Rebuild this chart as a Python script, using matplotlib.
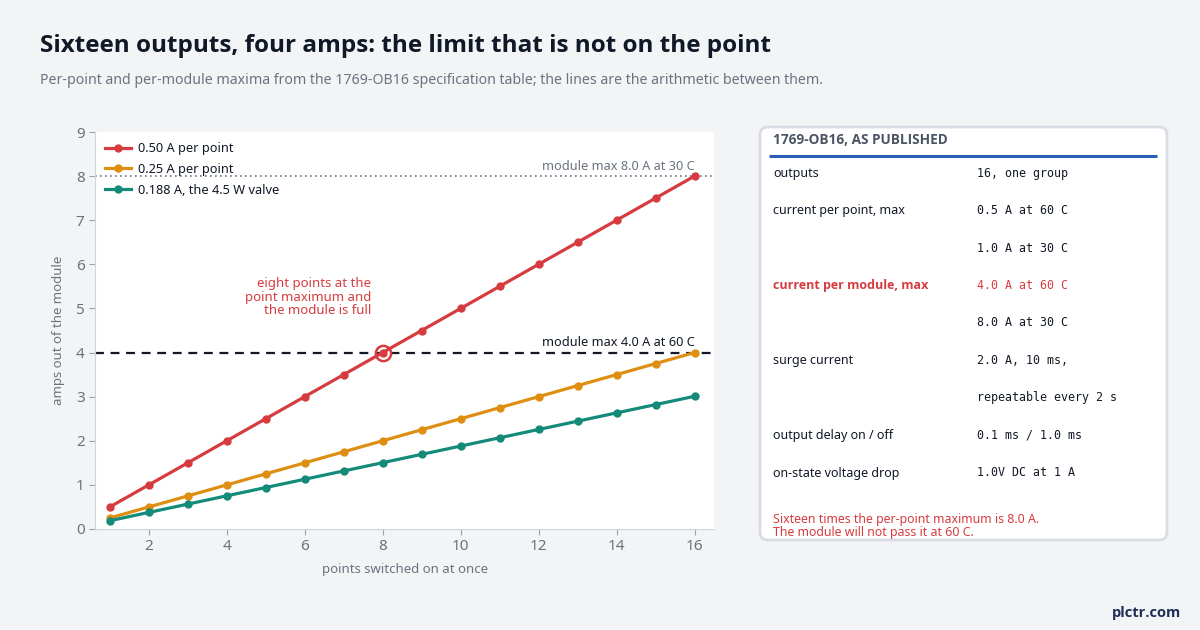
import matplotlib
matplotlib.use("Agg")
import matplotlib.pyplot as plt
from matplotlib.patches import FancyBboxPatch
from matplotlib import font_manager

plt.rcParams['font.family'] = ['Noto Sans', 'DejaVu Sans']

# data
points = [1, 2, 3, 4, 5, 6, 7, 8, 9, 10, 11, 12, 13, 14, 15, 16]
amps_050 = [0.5, 1.0, 1.5, 2.0, 2.5, 3.0, 3.5, 4.0, 4.5, 5.0, 5.5, 6.0, 6.5, 7.0, 7.5, 8.0]
amps_025 = [0.25, 0.5, 0.75, 1.0, 1.25, 1.5, 1.75, 2.0, 2.25, 2.5, 2.75, 3.0, 3.25, 3.5, 3.75, 4.0]
amps_0188 = [0.188, 0.376, 0.564, 0.752, 0.94, 1.128, 1.316, 1.504, 1.692, 1.88,
             2.068, 2.256, 2.444, 2.632, 2.82, 3.008]
series_labels = ["0.50 A per point", "0.25 A per point", "0.188 A, the 4.5 W valve"]
module_max_60 = 4.0
module_max_30 = 8.0
full_point = (8, 4.0)

spec_rows = [
    ("outputs", "16, one group"),
    ("current per point, max", "0.5 A at 60 C"),
    ("", "1.0 A at 30 C"),
    ("current per module, max", "4.0 A at 60 C"),
    ("", "8.0 A at 30 C"),
    ("surge current", "2.0 A, 10 ms,"),
    ("", "repeatable every 2 s"),
    ("output delay on / off", "0.1 ms / 1.0 ms"),
    ("on-state voltage drop", "1.0V DC at 1 A"),
]
highlight_row = 3

RED = "#d63c3f"
ORANGE = "#de8f12"
TEAL = "#148a79"
GRAY = "#6b7280"
DARK = "#111827"
BG = "#f3f4f6"

# pick a family that really has a bold face
names = {f.name: [] for f in font_manager.fontManager.ttflist}
for f in font_manager.fontManager.ttflist:
    names[f.name].append(f.weight)
BOLD = "Open Sans"
for cand in ["Noto Sans", "Open Sans", "Lato", "DejaVu Sans"]:
    ws = names.get(cand, [])
    if any((w == "bold" or (isinstance(w, int) and w >= 600)) for w in ws):
        BOLD = cand
        break

fig = plt.figure(figsize=(12, 6.3), dpi=100, facecolor=BG)

# main chart
ax = fig.add_axes([95 / 1200, 1 - 529 / 630, (714 - 95) / 1200, (529 - 132) / 630])
ax.set_facecolor("white")
for s in ["top", "right"]:
    ax.spines[s].set_visible(False)
for s in ["left", "bottom"]:
    ax.spines[s].set_color("#d1d5db")
ax.tick_params(colors="#9ca3af", labelcolor=GRAY, labelsize=11, length=4)

ax.plot(points, amps_050, color=RED, lw=2.3, marker="o", ms=5, label=series_labels[0], zorder=4)
ax.plot(points, amps_025, color=ORANGE, lw=2.3, marker="o", ms=5, label=series_labels[1], zorder=4)
ax.plot(points, amps_0188, color=TEAL, lw=2.3, marker="o", ms=5, label=series_labels[2], zorder=4)

ax.axhline(module_max_30, color="#6b7280", lw=1.2, ls=(0, (1, 2)), zorder=2)
ax.axhline(module_max_60, color=DARK, lw=1.6, ls=(0, (4, 3)), zorder=2)
ax.text(16, module_max_30 + 0.08, "module max 8.0 A at 30 C", ha="right", va="bottom",
        fontsize=9.2, color=GRAY)
ax.text(16, module_max_60 + 0.08, "module max 4.0 A at 60 C", ha="right", va="bottom",
        fontsize=9.2, color=DARK)

ax.plot(*full_point, marker="o", ms=11, mfc="none", mec=RED, mew=1.8, zorder=5)
ax.text(7.7, 5.25, "eight points at the\npoint maximum and\nthe module is full",
        ha="right", va="center", fontsize=9.5, color=RED, linespacing=1.05)

ax.set_xlim(0.62, 16.5)
ax.set_ylim(0, 9)
ax.set_xticks([2, 4, 6, 8, 10, 12, 14, 16])
ax.set_yticks(range(0, 10))
ax.set_xlabel("points switched on at once", fontsize=9.5, color=GRAY, labelpad=6)
ax.set_ylabel("amps out of the module", fontsize=9.5, color=GRAY, labelpad=8)

leg = ax.legend(loc="upper left", frameon=False, fontsize=9.2, handlelength=2.0,
                handletextpad=0.6, borderaxespad=0.5, borderpad=0.3, labelspacing=0.6)
for t in leg.get_texts():
    t.set_color(DARK)

# overlay in pixel coordinates for titles and the spec panel
ov = fig.add_axes([0, 0, 1, 1], zorder=-1)
ov.set_xlim(0, 1200)
ov.set_ylim(630, 0)
ov.axis("off")
ov.patch.set_alpha(0)

ov.text(40, 46, "Sixteen outputs, four amps: the limit that is not on the point",
        fontsize=17.5, fontweight="bold", family=BOLD, color=DARK, va="center", ha="left")
ov.text(40, 80, "Per-point and per-module maxima from the 1769-OB16 specification table; "
        "the lines are the arithmetic between them.", fontsize=10.2, color=GRAY,
        va="center", ha="left")
ov.text(1181, 613, "plctr.com", fontsize=10.5, fontweight="bold", family=BOLD,
        color="#1f2f55", ha="right", va="center")

panel = FancyBboxPatch((760, 127), 407, 413, boxstyle="round,pad=0,rounding_size=8",
                       fc="white", ec="#d9dde3", lw=2)
ov.add_patch(panel)
ov.text(773, 140, "1769-OB16, AS PUBLISHED", fontsize=9.8, fontweight="bold", family=BOLD,
        color="#4b5563", va="center", ha="left")
ov.plot([769, 1157], [156, 156], color="#2b5fb5", lw=2.2, solid_capstyle="butt")

row_y0 = 173
row_step = 37.5
for i, (lab, val) in enumerate(spec_rows):
    y = row_y0 + i * row_step
    col = RED if i == highlight_row else DARK
    if i == highlight_row:
        ov.text(773, y, lab, fontsize=9, color=col, va="center", ha="left",
                fontweight="bold", family=BOLD)
    else:
        ov.text(773, y, lab, fontsize=9, color=col, va="center", ha="left")
    ov.text(977, y, val, fontsize=8.4, color=col, va="center", ha="left",
            family="DejaVu Sans Mono")

ov.text(773, 526, "Sixteen times the per-point maximum is 8.0 A.\nThe module will not pass it at 60 C.",
        fontsize=8.9, color=RED, va="center", ha="left", linespacing=1.0)

fig.savefig("out.png", dpi=100, facecolor=BG)
